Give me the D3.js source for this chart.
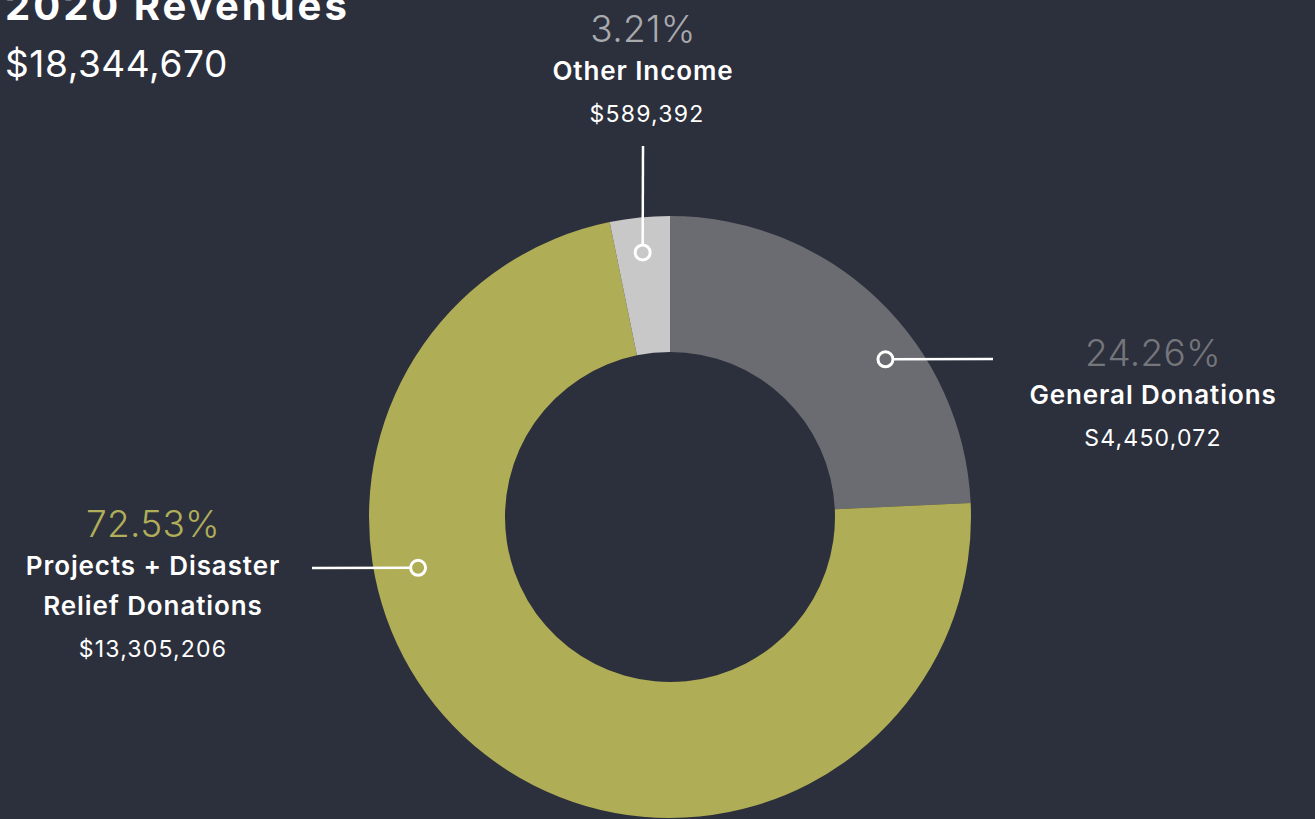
<!DOCTYPE html>
<html>
<head>
<meta charset="utf-8">
<script src="https://cdn.jsdelivr.net/npm/d3@7"></script>
<style>
  html, body { margin: 0; padding: 0; background: #2c2f3c; overflow: hidden; }
  svg { display: block; font-family: Inter, "Noto Sans", sans-serif; }
</style>
</head>
<body>
<svg id="chart" width="1315" height="819"></svg>
<script>
// data
const categories = ['General Donations', 'Projects + Disaster Relief Donations', 'Other Income'];
const labelLines = [['General Donations'], ['Projects + Disaster', 'Relief Donations'], ['Other Income']];
const amounts = [4450072, 13305206, 589392];
const amountLabels = ['S4,450,072', '$13,305,206', '$589,392'];
const total = 18344670;
const title = '2020 Revenues';

const sliceColors = ['#6b6c71', '#afad55', '#c8c8c8'];
const pctColors = ['#75767b', '#b0ae58', '#a9aaae'];

// where each callout sits (angle in degrees clockwise from top)
const callouts = [
  { angle: 53.8, r: 267, end: [993, 359], tx: 1153, ty: 366 },
  { angle: 258.6, r: 257, end: [312, 568], tx: 153, ty: 537 },
  { angle: 354.1, r: 266, end: [643, 146], tx: 643, ty: 42 }
];

const svg = d3.select('#chart');
const cx = 670, cy = 517;
const outerR = 301, innerR = 165;

svg.append('text')
  .attr('x', 5).attr('y', 20)
  .attr('fill', '#ffffff')
  .attr('font-size', 40).attr('font-weight', 700)
  .attr('letter-spacing', 3)
  .text(title);

svg.append('text')
  .attr('x', 5).attr('y', 77)
  .attr('fill', '#ffffff')
  .attr('font-size', 37).attr('font-weight', 400)
  .attr('letter-spacing', 0.6)
  .text(d3.format('$,')(total));

const pie = d3.pie().sort(null).value(d => d)(amounts);
const arc = d3.arc().innerRadius(innerR).outerRadius(outerR);

const g = svg.append('g').attr('transform', `translate(${cx},${cy})`);

g.selectAll('path')
  .data(pie)
  .enter().append('path')
  .attr('d', arc)
  .attr('fill', (d, i) => sliceColors[i]);

const pct = d3.format('.2%');

callouts.forEach((c, i) => {
  const [px, py] = d3.pointRadial(c.angle * Math.PI / 180, c.r);
  const ax = cx + px, ay = cy + py;

  svg.append('line')
    .attr('x1', ax).attr('y1', ay)
    .attr('x2', c.end[0]).attr('y2', c.end[1])
    .attr('stroke', '#ffffff').attr('stroke-width', 2.5);

  svg.append('circle')
    .attr('cx', ax).attr('cy', ay).attr('r', 7.5)
    .attr('fill', sliceColors[i])
    .attr('stroke', '#ffffff').attr('stroke-width', 3);

  const t = svg.append('g').attr('text-anchor', 'middle');
  t.append('text')
    .attr('x', c.tx).attr('y', c.ty)
    .attr('fill', pctColors[i])
    .attr('font-size', 37).attr('font-weight', 300)
    .attr('letter-spacing', 0.3)
    .text(pct(amounts[i] / total));

  let y = c.ty + 38;
  labelLines[i].forEach(line => {
    t.append('text')
      .attr('x', c.tx).attr('y', y)
      .attr('fill', '#ffffff')
      .attr('font-size', 26).attr('font-weight', 600)
      .attr('letter-spacing', 0.9)
      .text(line);
    y += 40;
  });

  t.append('text')
    .attr('x', c.tx + (i === 2 ? 4 : 0)).attr('y', y + 2)
    .attr('fill', '#ffffff')
    .attr('font-size', 23).attr('font-weight', 400)
    .attr('letter-spacing', 1.2)
    .text(amountLabels[i]);
});
</script>
</body>
</html>
